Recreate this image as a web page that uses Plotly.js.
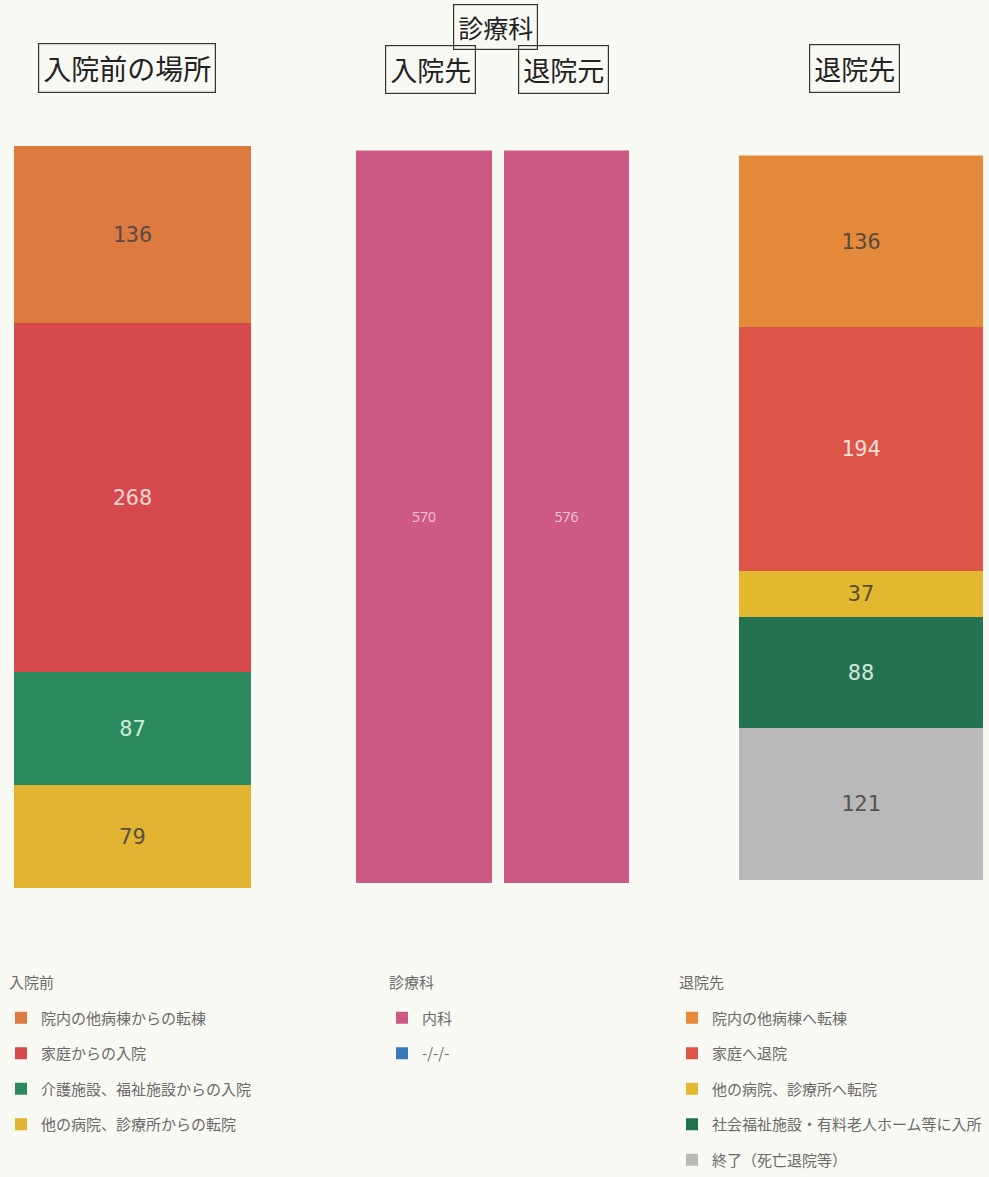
<!DOCTYPE html>
<html>
<head>
<meta charset="utf-8">
<script src="https://cdn.plot.ly/plotly-3.0.1.min.js"></script>
<style>html,body{margin:0;padding:0;background:#f9f9f4;}#chart{width:989px;height:1177px;}</style>
</head>
<body>
<div id="chart"></div>
<script>
// ---- data ----
const beforeCats = ["院内の他病棟からの転棟", "家庭からの入院", "介護施設、福祉施設からの入院", "他の病院、診療所からの転院"];
const beforeVals = [136, 268, 87, 79];
const deptCats = ["内科", "-/-/-"];
const deptIn = [570, 0];
const deptOut = [576, 0];
const afterCats = ["院内の他病棟へ転棟", "家庭へ退院", "他の病院、診療所へ転院", "社会福祉施設・有料老人ホーム等に入所", "終了（死亡退院等）"];
const afterVals = [136, 194, 37, 88, 121];
const columnTitles = ["入院前の場所", "診療科", "入院先", "退院元", "退院先"];
const legendTitles = ["入院前", "診療科", "退院先"];

// ---- styles ----
const beforeColors = ["#dc7a40", "#d64a4e", "#2b8a5d", "#e2b431"];
const beforeText = ["#5a4a44", "#f2d4d2", "#cfeadb", "#5a5040"];
const deptColors = ["#cc5a84", "#3a78b8"];
const afterColors = ["#e5893a", "#dc5548", "#e2b92e", "#22714f", "#b9b9b9"];
const afterText = ["#5a4a40", "#f5dcd6", "#5a5030", "#cfe8d6", "#555555"];
const numFont = "DejaVu Sans Mono, monospace";
const jp = "Noto Sans CJK JP, sans-serif";

const traces = [];
for (let i = beforeCats.length - 1; i >= 0; i--) {
  traces.push({
    type: "bar", x: ["入院前"], y: [beforeVals[i]], name: beforeCats[i],
    xaxis: "x", yaxis: "y", width: 1,
    marker: {color: beforeColors[i], line: {width: 0}},
    text: [String(beforeVals[i])], textposition: "inside", insidetextanchor: "middle",
    textfont: {family: numFont, size: 22, color: beforeText[i]},
    hoverinfo: "name+y", legend: "legend", legendgroup: "b" + i, legendrank: i + 1
  });
}
traces.push({
  type: "bar", x: ["入院先"], y: [deptIn[0]], name: deptCats[0], xaxis: "x2", yaxis: "y2", width: 1,
  marker: {color: deptColors[0]}, text: [String(deptIn[0])], textposition: "inside", insidetextanchor: "middle",
  textfont: {family: "Open Sans, sans-serif", size: 14, color: "#f3c6d6"},
  legend: "legend2", legendgroup: "d0", legendrank: 1
});
traces.push({
  type: "bar", x: ["入院先"], y: [deptIn[1]], name: deptCats[1], xaxis: "x2", yaxis: "y2", width: 1,
  marker: {color: deptColors[1]}, legend: "legend2", legendgroup: "d1", legendrank: 2
});
traces.push({
  type: "bar", x: ["退院元"], y: [deptOut[0]], name: deptCats[0], xaxis: "x3", yaxis: "y3", width: 1,
  marker: {color: deptColors[0]}, text: [String(deptOut[0])], textposition: "inside", insidetextanchor: "middle",
  textfont: {family: "Open Sans, sans-serif", size: 14, color: "#f3c6d6"},
  legend: "legend2", legendgroup: "d0", showlegend: false
});
for (let i = afterCats.length - 1; i >= 0; i--) {
  traces.push({
    type: "bar", x: ["退院先"], y: [afterVals[i]], name: afterCats[i],
    xaxis: "x4", yaxis: "y4", width: 1,
    marker: {color: afterColors[i], line: {width: 0}},
    text: [String(afterVals[i])], textposition: "inside", insidetextanchor: "middle",
    textfont: {family: numFont, size: 22, color: afterText[i]},
    legend: "legend3", legendgroup: "a" + i, legendrank: i + 1
  });
}

const W = 989, H = 1177;
const px = (a, b) => [a / W, b / W];
const py = (top, bot) => [1 - bot / H, 1 - top / H];
const hid = {visible: false, fixedrange: true};
const sum = a => a.reduce((s, v) => s + v, 0);

function box(text, cx, cy, size) {
  return {text: text, x: cx / W, y: 1 - cy / H, xref: "paper", yref: "paper", xanchor: "center", yanchor: "middle",
    showarrow: false, font: {family: jp, size: size, color: "#222"}, bordercolor: "#333", borderwidth: 1.2,
    borderpad: 4, bgcolor: "rgba(0,0,0,0)"};
}
function ltitle(text, x, cy) {
  return {text: text, x: x / W, y: 1 - cy / H, xref: "paper", yref: "paper", xanchor: "left", yanchor: "middle",
    showarrow: false, font: {family: jp, size: 15, color: "#6a6a6a"}};
}
function leg(x, yTop) {
  return {x: x / W, y: 1 - yTop / H, xanchor: "left", yanchor: "top", traceorder: "grouped", tracegroupgap: 13,
    bgcolor: "rgba(0,0,0,0)", font: {family: jp, size: 15, color: "#6a6a6a"}, itemclick: false, itemdoubleclick: false};
}

const layout = {
  width: W, height: H, margin: {l: 0, r: 0, t: 0, b: 0},
  paper_bgcolor: "#f9f9f4", plot_bgcolor: "rgba(0,0,0,0)",
  barmode: "stack", bargap: 0, showlegend: true,
  xaxis: Object.assign({domain: px(14, 251), range: [-0.5, 0.5]}, hid),
  yaxis: Object.assign({domain: py(146, 891), range: [0, sum(beforeVals)]}, hid),
  xaxis2: Object.assign({domain: px(356, 492), range: [-0.5, 0.5], anchor: "y2"}, hid),
  yaxis2: Object.assign({domain: py(151, 886), range: [0, sum(deptIn)], anchor: "x2"}, hid),
  xaxis3: Object.assign({domain: px(504, 629), range: [-0.5, 0.5], anchor: "y3"}, hid),
  yaxis3: Object.assign({domain: py(151, 886), range: [0, sum(deptOut)], anchor: "x3"}, hid),
  xaxis4: Object.assign({domain: px(739, 983), range: [-0.5, 0.5], anchor: "y4"}, hid),
  yaxis4: Object.assign({domain: py(156, 883), range: [0, sum(afterVals)], anchor: "x4"}, hid),
  legend: leg(1, 1005), legend2: leg(382, 1005), legend3: leg(672, 1005),
  annotations: [
    box(columnTitles[0], 126.5, 68.5, 28),
    box(columnTitles[1], 495, 27, 25),
    box(columnTitles[2], 430.5, 69.5, 27),
    box(columnTitles[3], 563.5, 69.5, 27),
    box(columnTitles[4], 854.5, 68.5, 27),
    ltitle(legendTitles[0], 7, 985),
    ltitle(legendTitles[1], 387, 985),
    ltitle(legendTitles[2], 677, 985)
  ]
};
Plotly.newPlot("chart", traces, layout, {displayModeBar: false, staticPlot: true});
</script>
</body>
</html>
